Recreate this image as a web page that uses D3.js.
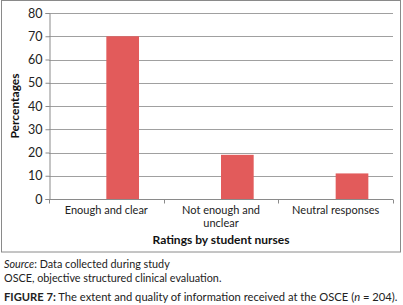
<!DOCTYPE html>
<html>
<head>
<meta charset="utf-8">
<script src="https://cdn.jsdelivr.net/npm/d3@7"></script>
<style>
  body { margin: 0; background: #fff; }
  svg { display: block; font-family: Lato, "Open Sans", sans-serif; }
</style>
</head>
<body>
<div id="chart"></div>
<script>
var categories = ["Enough and clear", "Not enough and unclear", "Neutral responses"];
var values = [70, 19, 11];
var yTicks = [0, 10, 20, 30, 40, 50, 60, 70, 80];
var catLabels = [["Enough and clear"], ["Not enough and", "unclear"], ["Neutral responses"]];

var width = 403, height = 305;
var plotLeft = 49, plotRight = 393, plotTop = 13, plotBottom = 199;

var svg = d3.select("#chart").append("svg")
    .attr("width", width)
    .attr("height", height);

// outer frame
svg.append("rect")
    .attr("x", 1.5).attr("y", 0.5)
    .attr("width", 399).attr("height", 251.5)
    .attr("fill", "none")
    .attr("stroke", "#8a8a8a")
    .attr("stroke-width", 1);

var xScale = d3.scaleBand()
    .domain(categories)
    .range([plotLeft, plotRight]);
var yScale = d3.scaleLinear()
    .domain([0, 80])
    .range([plotBottom, plotTop]);

// gridlines
svg.append("g")
    .selectAll("line")
    .data(yTicks.slice(1))
    .enter()
    .append("line")
    .attr("x1", plotLeft).attr("x2", plotRight)
    .attr("y1", function (d) { return Math.round(yScale(d)) + 0.5; })
    .attr("y2", function (d) { return Math.round(yScale(d)) + 0.5; })
    .attr("stroke", "#a0a0a0")
    .attr("stroke-width", 1);

// y axis
var yAxis = d3.axisLeft(yScale)
    .tickValues(yTicks)
    .tickSize(4)
    .tickPadding(3);
var gy = svg.append("g")
    .attr("transform", "translate(" + (plotLeft + 0.5) + ",0)")
    .call(yAxis);
gy.selectAll("path, line").attr("stroke", "#8a8a8a");
gy.selectAll("text")
    .attr("font-size", 12.5)
    .attr("fill", "#222")
    .attr("font-family", "Lato, sans-serif");

// bars
svg.selectAll(".bar")
    .data(values)
    .enter()
    .append("rect")
    .attr("class", "bar")
    .attr("x", function (d, i) { return xScale(categories[i]) + xScale.bandwidth() / 2; })
    .attr("width", xScale.bandwidth() * 0.285)
    .attr("y", function (d) { return yScale(d); })
    .attr("height", function (d) { return yScale(0) - yScale(d); })
    .attr("fill", "#e25b5b");

// x axis
var xAxis = d3.axisBottom(xScale).tickSize(0).tickFormat("");
var gx = svg.append("g")
    .attr("transform", "translate(0," + (plotBottom + 0.5) + ")")
    .call(xAxis);
gx.select("path").attr("stroke", "#8a8a8a").attr("d", "M" + plotLeft + ",0H" + plotRight);

// category boundary ticks
var bounds = categories.map(function (c) { return xScale(c); }).concat([plotRight]);
gx.selectAll(".bt")
    .data(bounds)
    .enter()
    .append("line")
    .attr("x1", function (d) { return Math.round(d) + 0.5; })
    .attr("x2", function (d) { return Math.round(d) + 0.5; })
    .attr("y1", 0).attr("y2", 4)
    .attr("stroke", "#8a8a8a");

// category labels
catLabels.forEach(function (lines, i) {
    var cx = xScale(categories[i]) + xScale.bandwidth() / 2;
    var t = svg.append("text")
        .attr("x", cx)
        .attr("y", 214)
        .attr("text-anchor", "middle")
        .attr("font-size", 11)
        .attr("fill", "#222");
    lines.forEach(function (l, j) {
        t.append("tspan")
            .attr("x", cx)
            .attr("dy", j === 0 ? 0 : 13)
            .text(l);
    });
});

// axis titles
svg.append("text")
    .attr("x", (plotLeft + plotRight) / 2)
    .attr("y", 244)
    .attr("text-anchor", "middle")
    .attr("font-size", 12)
    .attr("font-weight", "bold")
    .attr("fill", "#111")
    .text("Ratings by student nurses");

svg.append("text")
    .attr("transform", "translate(19," + ((plotTop + plotBottom) / 2) + ") rotate(-90)")
    .attr("text-anchor", "middle")
    .attr("font-size", 12)
    .attr("font-weight", "bold")
    .attr("fill", "#111")
    .text("Percentages");

// notes and caption
var src = svg.append("text")
    .attr("x", 4).attr("y", 268)
    .attr("font-size", 10.8)
    .attr("fill", "#222");
src.append("tspan").attr("font-style", "italic").text("Source");
src.append("tspan").text(": Data collected during study");

svg.append("text")
    .attr("x", 4).attr("y", 282)
    .attr("font-size", 10.8)
    .attr("fill", "#222")
    .text("OSCE, objective structured clinical evaluation.");

var cap = svg.append("text")
    .attr("x", 4).attr("y", 301)
    .attr("font-size", 11.2)
    .attr("fill", "#222");
cap.append("tspan").attr("font-weight", "bold").text("FIGURE 7:");
cap.append("tspan").text(" The extent and quality of information received at the OSCE (");
cap.append("tspan").attr("font-style", "italic").text("n");
cap.append("tspan").text(" = 204).");
</script>
</body>
</html>
